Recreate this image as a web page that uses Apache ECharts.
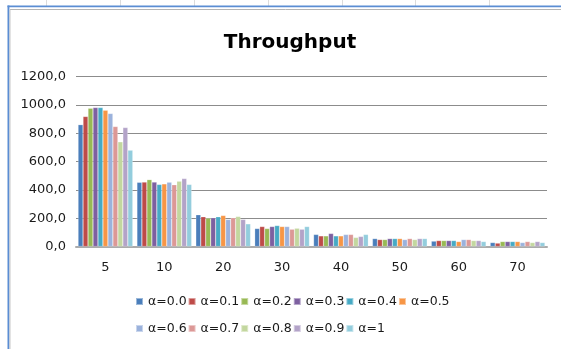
<!DOCTYPE html>
<html>
<head>
<meta charset="utf-8">
<script src="https://cdn.jsdelivr.net/npm/echarts@6/dist/echarts.min.js"></script>
<style>
  html, body { margin: 0; padding: 0; background: #ffffff; }
  #chart { width: 561px; height: 349px; }
</style>
</head>
<body>
<div id="chart"></div>
<script>
// Window size categories
const categories = ['5', '10', '20', '30', '40', '50', '60', '70'];

// Throughput per alpha value
const a00 = [860, 453, 224, 127, 85, 56, 38, 28];
const a01 = [918, 455, 210, 141, 75, 49, 42, 24];
const a02 = [976, 472, 200, 127, 75, 49, 42, 35];
const a03 = [981, 455, 203, 141, 92, 56, 42, 35];
const a04 = [981, 438, 210, 148, 75, 56, 42, 35];
const a05 = [962, 442, 219, 141, 75, 56, 35, 35];
const a06 = [939, 454, 191, 141, 85, 49, 49, 28];
const a07 = [847, 436, 203, 122, 85, 56, 49, 35];
const a08 = [739, 461, 212, 129, 64, 49, 42, 28];
const a09 = [840, 480, 191, 122, 71, 56, 42, 35];
const a10 = [680, 438, 160, 141, 85, 56, 35, 28];

const seriesNames = ['α=0.0', 'α=0.1', 'α=0.2', 'α=0.3', 'α=0.4', 'α=0.5',
                     'α=0.6', 'α=0.7', 'α=0.8', 'α=0.9', 'α=1'];
const seriesValues = [a00, a01, a02, a03, a04, a05, a06, a07, a08, a09, a10];
const seriesColors = ['#4a7ebb', '#be4b48', '#98b954', '#7d60a0', '#46aac5', '#f79646',
                      '#9bb2dc', '#dc9896', '#c3d79f', '#b3a3c8', '#93cddd'];

const yTicks = { min: 0, max: 1200, interval: 200 };

const FONT = 'DejaVu Sans';
const TEXT = '#1a1a1a';

const chart = echarts.init(document.getElementById('chart'), null, { renderer: 'canvas' });

const series = seriesNames.map((name, i) => ({
  name: name,
  type: 'bar',
  data: seriesValues[i],
  barGap: '0%',
  barCategoryGap: '7%',
  itemStyle: {
    color: seriesColors[i],
    borderColor: 'rgba(255,255,255,0.45)',
    borderWidth: 0.5
  },
  emphasis: { disabled: true }
}));

const legendBase = {
  orient: 'horizontal',
  left: 135,
  icon: 'rect',
  itemWidth: 7,
  itemHeight: 7,
  itemGap: 1,
  padding: 0,
  selectedMode: false,
  textStyle: { fontFamily: FONT, fontSize: 12.5, color: TEXT }
};

chart.setOption({
  animation: false,
  backgroundColor: '#ffffff',
  title: {
    text: 'Throughput',
    left: 285,
    textAlign: 'center',
    top: 28,
    textStyle: { fontFamily: FONT, fontSize: 20, fontWeight: 'bold', color: '#000000' }
  },
  legend: [
    Object.assign({}, legendBase, { top: 295, data: seriesNames.slice(0, 6) }),
    Object.assign({}, legendBase, { top: 322, data: seriesNames.slice(6) })
  ],
  grid: { left: 76, right: 14, top: 76.5, bottom: 102.5, containLabel: false },
  xAxis: {
    type: 'category',
    data: categories,
    axisLine: { show: true, lineStyle: { color: '#ababab', width: 2 } },
    axisTick: { show: false },
    axisLabel: { fontFamily: FONT, fontSize: 13, color: TEXT, margin: 15 },
    splitLine: { show: false }
  },
  yAxis: {
    type: 'value',
    min: yTicks.min,
    max: yTicks.max,
    interval: yTicks.interval,
    axisLine: { show: false },
    axisTick: { show: false },
    axisLabel: {
      fontFamily: FONT, fontSize: 13, color: TEXT, margin: 10,
      formatter: v => v.toFixed(1).replace('.', ',')
    },
    splitLine: { show: true, lineStyle: { color: '#8c8c8c', width: 1 } }
  },
  graphic: [
    // spreadsheet column dividers above the chart object
    ...[46, 120, 194, 268, 342, 415, 489].map(x => ({
      type: 'line', silent: true,
      shape: { x1: x + 0.5, y1: 0, x2: x + 0.5, y2: 6 },
      style: { stroke: '#dcdcdc', lineWidth: 1 }
    })),
    // selected chart frame: blue outline with inner grey edge
    { type: 'rect', silent: true, shape: { x: 7.5, y: 5.5, width: 560, height: 1.8 },
      style: { fill: '#5b8dd3' } },
    { type: 'rect', silent: true, shape: { x: 7.5, y: 5.5, width: 1.9, height: 349 },
      style: { fill: '#5b8dd3' } },
    { type: 'line', silent: true, shape: { x1: 10, y1: 9.5, x2: 561, y2: 9.5 },
      style: { stroke: '#b4b4b4', lineWidth: 1 } },
    { type: 'line', silent: true, shape: { x1: 10, y1: 9.5, x2: 10, y2: 349 },
      style: { stroke: '#c8c8c8', lineWidth: 1 } }
  ],
  series: series
});
</script>
</body>
</html>
